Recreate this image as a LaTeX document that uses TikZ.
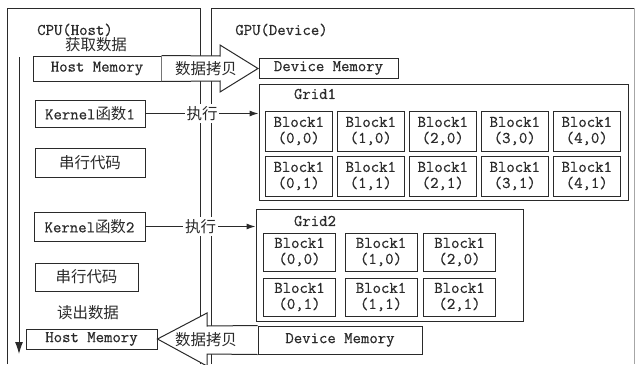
\documentclass[tikz,border=0pt]{standalone}
\usepackage{fontspec}
\setmonofont{Latin Modern Mono}[FakeBold=0.6]
\newfontfamily\cjk[Scale=0.95]{Noto Sans CJK SC}
\usetikzlibrary{arrows.meta}
\newcommand\zh[1]{{\cjk #1}}
\definecolor{ln}{HTML}{2A2A2A}
\begin{document}
\begin{tikzpicture}[x=1pt,y=-1pt,
  every node/.style={font=\fontsize{16.3}{16}\selectfont\ttfamily, text=ln},
  frame/.style={draw=ln, line width=1pt},
  box/.style={draw=ln, line width=1pt, fill=white, inner sep=0pt, align=center},
  blk/.style={box, minimum width=67pt, minimum height=40pt},
  blkb/.style={box, minimum width=72pt, minimum height=38pt},
  bigarrow/.style={draw=ln, line width=1pt, fill=white},
  conn/.style={draw=ln, line width=1pt, -{Latex[length=9pt,width=6pt]}},
  lbl/.style={fill=white, inner sep=2pt}]
\useasboundingbox (0,0) rectangle (636,364);
% containers
\draw[frame] (7,364) |- (200,8) -- (200,364);
\draw[frame] (211,364) |- (634,8);
\draw[draw=black!35, line width=1pt] (634,8) -- (634,364);
\node at (75,30) {CPU(Host)};
\node at (281.5,30) {GPU(Device)};
\node at (96,45) {\zh{获取数据}};
\node at (88,313) {\zh{读出数据}};
% timeline
\coordinate (flowtop) at (19,57);
\coordinate (flowend) at (19,354);
\draw[draw=ln, line width=1pt, -{Latex[length=12pt,width=8pt]}] (flowtop) -- (flowend);
% host side boxes
\node[box, minimum width=128pt, minimum height=25pt] (hm1) at (97,68.5) {Host Memory};
\node[box, minimum width=110pt, minimum height=27pt] (k1) at (90,113.5) {Kernel\zh{函数}1};
\node[box, minimum width=110pt, minimum height=29pt] (s1) at (90,162.5) {\zh{串行代码}};
\node[box, minimum width=111pt, minimum height=29pt] (k2) at (89.5,226.5) {Kernel\zh{函数}2};
\node[box, minimum width=103pt, minimum height=28pt] (s2) at (86.5,277) {\zh{串行代码}};
\node[box, minimum width=131pt, minimum height=20pt] (hm2) at (91.5,339) {Host Memory};
% device side
\node[box, minimum width=139pt, minimum height=20pt] (dm1) at (328.5,68) {Device Memory};
\node[box, minimum width=164pt, minimum height=28pt] (dm2) at (340,340) {Device Memory};
\node[box, minimum width=369pt, minimum height=116pt] (grid1) at (443.5,142) {};
\node at (315,94) {Grid1};
\node[box, minimum width=267pt, minimum height=112pt] (grid2) at (389.5,265) {};
\node at (315,221) {Grid2};
\foreach \i in {0,...,4}{
  \node[blk] (ga\i) at (298.75+72*\i,131) {Block1\\(\i,0)};
  \node[blk] (gb\i) at (298.75+72*\i,176) {Block1\\(\i,1)};
}
\foreach \i/\x in {0/299.5,1/381,2/459.5}{
  \node[blkb] (ha\i) at (\x,252) {Block1\\(\i,0)};
  \node[blkb] (hb\i) at (\x,297) {Block1\\(\i,1)};
}
% copy arrows
\draw[bigarrow] (hm1.north east) -- (220,56) -- (220,45) -- (258,68.5) -- (220,92) -- (220,81) -- (hm1.south east);
\node at (206,68.5) {\zh{数据拷贝}};
\begin{scope}
\clip (0,0) rectangle (636,364);
\draw[bigarrow] (dm2.north west) -- (207,326) -- (207,313) -- (hm2.east) -- (207,366) -- (207,354) -- (dm2.south west);
\end{scope}
\node at (206,339.5) {\zh{数据拷贝}};
% execution
\draw[conn] (k1.east) -- node[lbl] {\zh{执行}} (k1.east -| grid1.west);
\draw[conn] (k2.east) -- node[lbl] {\zh{执行}} (k2.east -| grid2.west);
\end{tikzpicture}
\end{document}
